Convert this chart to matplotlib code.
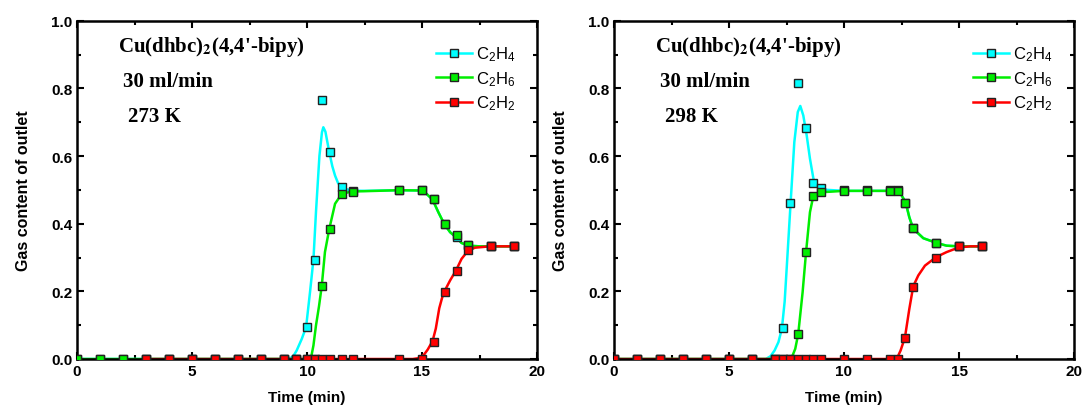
import matplotlib
matplotlib.use("Agg")
import matplotlib.pyplot as plt
import numpy as np

plt.rcParams['font.family'] = ['Liberation Sans', 'DejaVu Sans']
plt.rcParams['mathtext.fontset'] = 'custom'
plt.rcParams['mathtext.rm'] = 'Liberation Sans'
plt.rcParams['mathtext.it'] = 'Liberation Sans'
plt.rcParams['mathtext.bf'] = 'Liberation Sans:bold'

# ---- 273 K: measured points ----
t4_273 = [0, 1, 2, 3, 4, 5, 6, 7, 8, 9, 9.5, 10, 10.33, 10.67, 11, 11.5, 12, 14, 15, 15.5, 16, 16.5, 17, 18, 19]
c2h4_273 = [0, 0, 0, 0, 0, 0, 0, 0, 0, 0, 0, 0.095, 0.294, 0.766, 0.611, 0.508, 0.497, 0.499, 0.499, 0.473, 0.40, 0.36, 0.337, 0.333, 0.333]
t6_273 = [0, 1, 2, 3, 4, 5, 6, 7, 8, 9, 9.5, 10, 10.33, 10.67, 11, 11.5, 12, 14, 15, 15.5, 16, 16.5, 17, 18, 19]
c2h6_273 = [0, 0, 0, 0, 0, 0, 0, 0, 0, 0, 0, 0, 0, 0.215, 0.385, 0.488, 0.494, 0.499, 0.499, 0.473, 0.40, 0.367, 0.337, 0.333, 0.333]
t2_273 = [3, 4, 5, 6, 7, 8, 9, 9.5, 10, 10.33, 10.67, 11, 11.5, 12, 14, 15, 15.5, 16, 16.5, 17, 18, 19]
c2h2_273 = [0, 0, 0, 0, 0, 0, 0, 0, 0, 0, 0, 0, 0, 0, 0, 0, 0.051, 0.199, 0.259, 0.323, 0.333, 0.333]

# ---- 273 K: fitted curves ----
f4t_273 = [0, 9.2, 9.4, 9.55, 9.77, 9.96, 10.13, 10.28, 10.39, 10.54, 10.65, 10.71, 10.8, 10.97, 11.1, 11.22, 11.35, 11.51, 11.87, 12.5, 14, 15, 15.2, 15.46, 15.71, 15.96, 16.22, 16.48, 16.72, 17.0, 17.52, 19]
f4y_273 = [0, 0, 0.008, 0.025, 0.059, 0.094, 0.197, 0.294, 0.434, 0.60, 0.67, 0.685, 0.672, 0.611, 0.57, 0.542, 0.52, 0.508, 0.498, 0.497, 0.499, 0.498, 0.488, 0.471, 0.434, 0.40, 0.375, 0.36, 0.343, 0.335, 0.333, 0.333]
f6t_273 = [0, 10.12, 10.2, 10.28, 10.39, 10.52, 10.64, 10.78, 10.97, 11.22, 11.51, 11.93, 13, 14, 15, 15.2, 15.46, 15.71, 15.96, 16.22, 16.48, 16.72, 17.0, 17.52, 19]
f6y_273 = [0, 0, 0.012, 0.04, 0.099, 0.155, 0.215, 0.316, 0.385, 0.459, 0.488, 0.495, 0.497, 0.499, 0.498, 0.488, 0.471, 0.434, 0.40, 0.375, 0.36, 0.343, 0.335, 0.333, 0.333]
f2t_273 = [3, 14.6, 14.8, 14.96, 15.1, 15.25, 15.46, 15.6, 15.75, 15.87, 15.96, 16.22, 16.48, 16.72, 17.0, 17.3, 17.96, 19]
f2y_273 = [0, 0, 0.002, 0.006, 0.014, 0.028, 0.053, 0.09, 0.15, 0.18, 0.198, 0.232, 0.262, 0.296, 0.320, 0.329, 0.333, 0.333]

# ---- 298 K: measured points ----
t4_298 = [0, 1, 2, 3, 4, 5, 6, 7, 7.33, 7.67, 8, 8.33, 8.67, 9, 10, 11, 12, 12.33, 12.67, 13, 14, 15, 16]
c2h4_298 = [0, 0, 0, 0, 0, 0, 0, 0, 0.092, 0.462, 0.815, 0.683, 0.521, 0.505, 0.5, 0.5, 0.5, 0.5, 0.462, 0.387, 0.343, 0.333, 0.333]
t6_298 = [0, 1, 2, 3, 4, 5, 6, 7, 7.33, 7.67, 8, 8.33, 8.67, 9, 10, 11, 12, 12.33, 12.67, 13, 14, 15, 16]
c2h6_298 = [0, 0, 0, 0, 0, 0, 0, 0, 0, 0, 0.074, 0.316, 0.483, 0.493, 0.497, 0.497, 0.497, 0.497, 0.462, 0.387, 0.343, 0.333, 0.333]
t2_298 = [0, 1, 2, 3, 4, 5, 6, 7, 7.33, 7.67, 8, 8.33, 8.67, 9, 10, 11, 12, 12.33, 12.67, 13, 14, 15, 16]
c2h2_298 = [0, 0, 0, 0, 0, 0, 0, 0, 0, 0, 0, 0, 0, 0, 0, 0, 0, 0, 0.062, 0.214, 0.30, 0.333, 0.333]

# ---- 298 K: fitted curves ----
f4t_298 = [0, 6.6, 6.8, 6.98, 7.15, 7.3, 7.42, 7.51, 7.68, 7.84, 7.99, 8.10, 8.23, 8.38, 8.52, 8.67, 8.88, 9.25, 10, 12.36, 12.51, 12.68, 12.84, 13.01, 13.45, 14.03, 14.46, 15, 16]
f4y_298 = [0, 0, 0.008, 0.025, 0.05, 0.09, 0.17, 0.27, 0.463, 0.641, 0.73, 0.748, 0.72, 0.66, 0.592, 0.533, 0.508, 0.5, 0.497, 0.497, 0.483, 0.463, 0.419, 0.385, 0.357, 0.343, 0.335, 0.333, 0.333]
f6t_298 = [0, 7.62, 7.75, 7.88, 8.01, 8.20, 8.35, 8.52, 8.67, 9.03, 10, 12.36, 12.51, 12.68, 12.84, 13.01, 13.45, 14.03, 14.46, 15, 16]
f6y_298 = [0, 0, 0.008, 0.03, 0.074, 0.197, 0.316, 0.434, 0.483, 0.493, 0.497, 0.497, 0.483, 0.463, 0.419, 0.385, 0.357, 0.343, 0.335, 0.333, 0.333]
f2t_298 = [0, 12.29, 12.46, 12.65, 12.84, 13.01, 13.23, 13.52, 14.0, 14.46, 15.0, 15.5, 16]
f2y_298 = [0, 0, 0.025, 0.064, 0.148, 0.215, 0.247, 0.276, 0.301, 0.316, 0.330, 0.333, 0.333]

colors = ['#00ffff', '#00ee00', '#ff0000']
labels = ['C$_2$H$_4$', 'C$_2$H$_6$', 'C$_2$H$_2$']


def panel(ax, pts, fits, temp):
    for (t, y), (ft, fy), c, lab in zip(pts, fits, colors, labels):
        ax.plot(ft, fy, '-', color=c, lw=1.8, zorder=2)
        ax.plot(t, y, 's', color=c, mec='#222222', mew=1.0, ms=5.5, zorder=3)
        ax.plot([], [], '-s', color=c, lw=1.8, mec='#222222', mew=1.0, ms=5.5, label=lab)
    ax.set_xlim(0, 20)
    ax.set_ylim(0, 1.0)
    ax.set_xticks([0, 5, 10, 15, 20])
    ax.set_xticks([2.5, 7.5, 12.5, 17.5], minor=True)
    ax.set_yticks([0, 0.2, 0.4, 0.6, 0.8, 1.0])
    ax.set_yticks([0.1, 0.3, 0.5, 0.7, 0.9], minor=True)
    ax.tick_params(which='both', direction='in', top=True, right=True, width=1.5)
    ax.tick_params(which='major', length=5)
    ax.tick_params(which='minor', length=3)
    for lab in ax.get_xticklabels() + ax.get_yticklabels():
        lab.set_fontweight('bold')
        lab.set_fontsize(11)
    for s in ax.spines.values():
        s.set_linewidth(1.8)
    ax.set_xlabel('Time (min)', fontsize=11, fontweight='bold', labelpad=9)
    ax.set_ylabel('Gas content of outlet', fontsize=11.5, fontweight='bold', labelpad=14)
    tkw = dict(transform=ax.transAxes, family='Liberation Serif', fontweight='bold',
               fontsize=15, va='center', math_fontfamily='stix')
    ax.text(0.09, 0.925, r"Cu(dhbc)$_\mathbf{2}$(4,4'-bipy)", **tkw)
    ax.text(0.10, 0.822, '30 ml/min', **tkw)
    ax.text(0.11, 0.718, temp, **tkw)
    ax.legend(loc='upper left', bbox_to_anchor=(0.78, 0.93), frameon=False,
              fontsize=12, handlelength=2.2, handletextpad=0.2,
              labelspacing=0.35, borderpad=0, borderaxespad=0)


fig = plt.figure(figsize=(10.83, 4.10), dpi=100)
ax1 = fig.add_axes([77 / 1083, 1 - 360 / 410, 460 / 1083, 338.3 / 410])
ax2 = fig.add_axes([614 / 1083, 1 - 360 / 410, 460 / 1083, 338.3 / 410])

panel(ax1,
      [(t4_273, c2h4_273), (t6_273, c2h6_273), (t2_273, c2h2_273)],
      [(f4t_273, f4y_273), (f6t_273, f6y_273), (f2t_273, f2y_273)],
      '273 K')
panel(ax2,
      [(t4_298, c2h4_298), (t6_298, c2h6_298), (t2_298, c2h2_298)],
      [(f4t_298, f4y_298), (f6t_298, f6y_298), (f2t_298, f2y_298)],
      '298 K')

fig.savefig('out.png', dpi=100)
